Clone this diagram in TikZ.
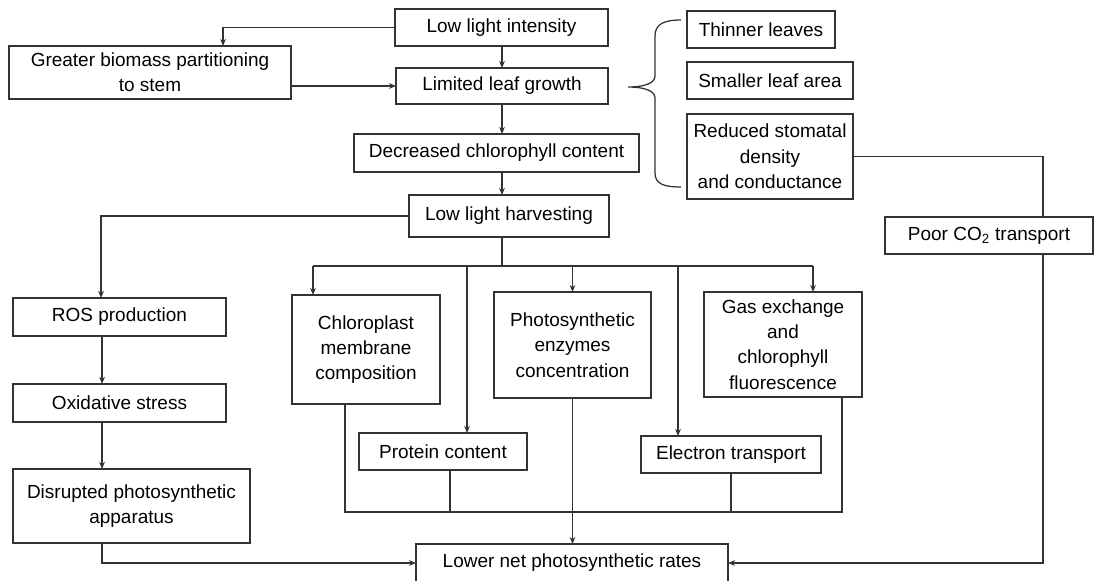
\documentclass[tikz,border=0pt]{standalone}
\usepackage{fontspec}
\setmainfont{Liberation Sans}
\usetikzlibrary{arrows.meta}
\definecolor{ln}{HTML}{333333}
\begin{document}
\begin{tikzpicture}[x=0.025cm,y=-0.025cm,
  box/.style={draw=ln,line width=0.9pt,inner sep=0pt,outer sep=0pt,align=center,
    font=\fontsize{13.5}{18}\selectfont,text=black},
  sz/.style 2 args={minimum width=#1*0.025cm,minimum height=#2*0.025cm},
  con/.style={draw=ln,line width=0.9pt},
  arr/.style={con,-{Stealth[length=5pt,width=4pt]}}]
\useasboundingbox (0,0) rectangle (1095,580);

% boxes
\node[box,sz={213}{37}] (lli) at (501.5,27.5) {Low light intensity};
\node[box,sz={282}{53}] (gb) at (150,72.5) {Greater biomass partitioning\\to stem};
\node[box,sz={212}{36}] (llg) at (502,86) {Limited leaf growth};
\node[box,sz={285}{38}] (dcc) at (496.5,153) {Decreased chlorophyll content};
\node[box,sz={200}{42}] (llh) at (509,216) {Low light harvesting};
\node[box,sz={148}{37}] (thin) at (761,29.5) {Thinner leaves};
\node[box,sz={166}{37}] (small) at (770,80.5) {Smaller leaf area};
\node[box,sz={166}{85}] (rsd) at (770,156.5) {Reduced stomatal\\density\\and conductance};
\node[box,sz={208}{37}] (co2) at (989,235.5) {Poor CO\textsubscript{2} transport};
\node[box,sz={213}{38}] (ros) at (119.5,317) {ROS production};
\node[box,sz={213}{38}] (ox) at (119.5,403) {Oxidative stress};
\node[box,sz={237}{74}] (dpa) at (131.5,506) {Disrupted photosynthetic\\apparatus};
\node[box,sz={148}{109}] (cmc) at (366,349.5) {Chloroplast\\membrane\\composition};
\node[box,sz={157}{106}] (pec) at (572.5,345) {Photosynthetic\\enzymes\\concentration};
\node[box,sz={158}{105}] (gas) at (783,344.5) {Gas exchange\\and\\chlorophyll\\fluorescence};
\node[box,sz={168}{37}] (prot) at (443,451.5) {Protein content};
\node[box,sz={180}{37}] (et) at (731,454.5) {Electron transport};
\node[box,sz={312}{38}] (lnp) at (572,563) {Lower net photosynthetic rates};

% bus coordinates
\coordinate (busL) at (313,266);
\coordinate (busR) at (813,266);
\coordinate (bus2) at (0,512);

% top chain
\draw[arr] (lli.west) -| ([xshift=5.35cm]gb.north west);
\draw[arr] (gb.east |- llg.west) -- (llg.west);
\draw[arr] (llg.north |- lli.south) -- (llg.north);
\draw[arr] (llg.south) -- (llg.south |- dcc.north);
\draw[arr] (llg.south |- dcc.south) -- (llg.south |- llh.north);

% left branch
\draw[arr] (llh.west) -| ([xshift=2.2cm]ros.north west);
\draw[arr] ([xshift=2.225cm]ros.south west) -- ([xshift=2.225cm]ox.north west);
\draw[arr] ([xshift=2.225cm]ox.south west) -- ([xshift=2.225cm]dpa.north west);
\draw[arr] ([xshift=2.225cm]dpa.south west) |- (lnp.west);

% middle bus
\draw[con] (llg.south |- llh.south) -- (llg.south |- busL);
\draw[con] (busL) -- (busR);
\draw[arr] (busL) -- (busL |- cmc.north);
\draw[arr] ([xshift=2.7cm]prot.north west |- busL) -- ([xshift=2.7cm]prot.north west);
\draw[arr] (pec.north |- busL) -- (pec.north);
\draw[arr] ([xshift=0.925cm]et.north west |- busL) -- ([xshift=0.925cm]et.north west);
\draw[arr] (busR) -- (busR |- gas.north);

% lower bus
\draw[con] ([xshift=1.325cm]cmc.south west) |- ([xshift=3.45cm]gas.south west |- bus2) -- ([xshift=3.45cm]gas.south west);
\draw[con] ([xshift=2.275cm]prot.south west) -- ([xshift=2.275cm]prot.south west |- bus2);
\draw[con] (et.south) -- (et.south |- bus2);
\draw[arr] (pec.south) -- (pec.south |- lnp.north);

% CO2 path
\draw[con] (rsd.east) -| ([xshift=3.95cm]co2.north west);
\draw[arr] ([xshift=3.95cm]co2.south west) |- (lnp.east);

% brace
\draw[con] (681,20) .. controls (664,20) and (655,24) .. (655,36) -- (655,76)
  .. controls (655,83) and (645,87) .. (628,87)
  .. controls (645,87) and (655,91) .. (655,98) -- (655,173)
  .. controls (655,184) and (664,187) .. (681,187);
\end{tikzpicture}
\end{document}
